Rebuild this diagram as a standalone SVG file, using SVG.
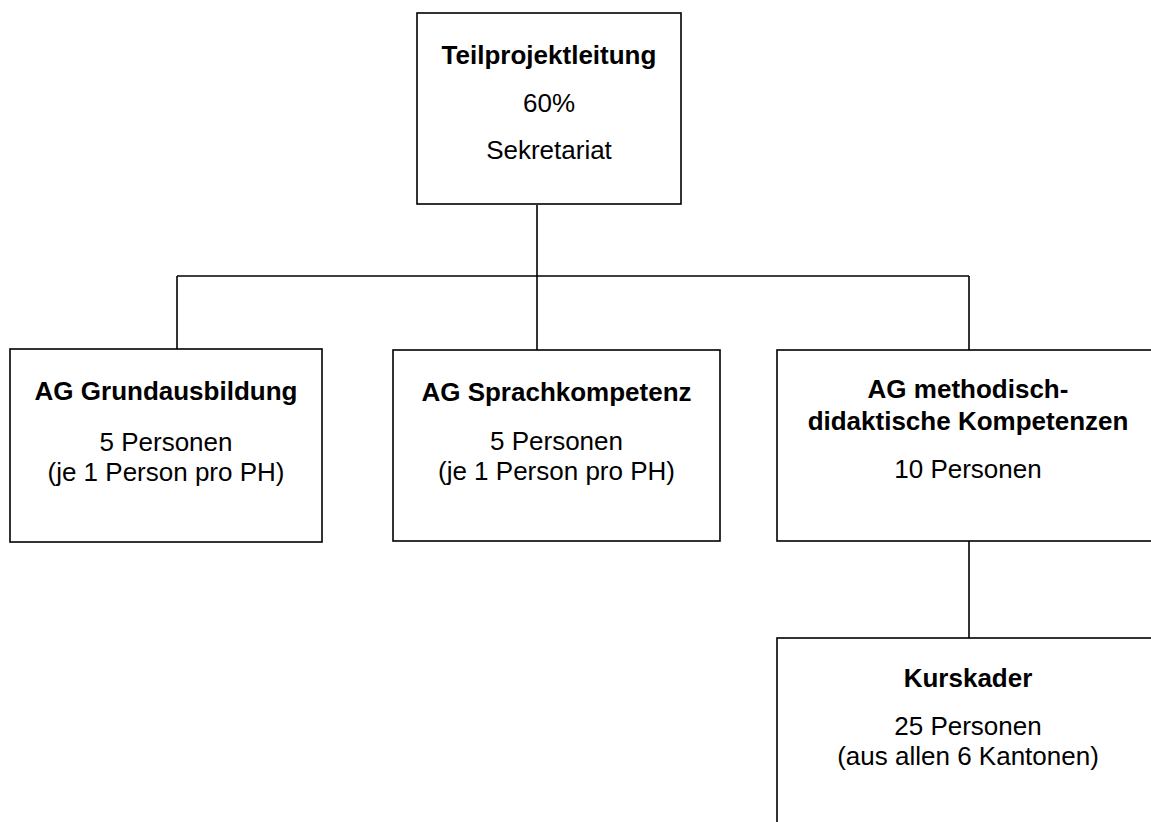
<svg xmlns="http://www.w3.org/2000/svg" width="1151" height="822" viewBox="0 0 1151 822">
<style>
.box{fill:#fff;stroke:#000;stroke-width:1.6}
.t{font-family:"Liberation Sans",Arial,sans-serif;font-size:26px;fill:#000;text-anchor:middle}
.b{font-weight:bold}
.c{stroke:#000;stroke-width:1.6;fill:none}
</style>
<rect width="1151" height="822" fill="#fff"/>
<g id="connectors">
<line class="c" x1="537" y1="205" x2="537" y2="276"/>
<line class="c" x1="177" y1="276" x2="969" y2="276"/>
<line class="c" x1="177" y1="276" x2="177" y2="349"/>
<line class="c" x1="537" y1="276" x2="537" y2="350"/>
<line class="c" x1="969" y1="276" x2="969" y2="350"/>
<line class="c" x1="969" y1="541" x2="969" y2="638"/>
</g>
<g id="teilprojektleitung">
<rect class="box" x="417" y="13" width="264" height="191"/>
<text class="t b" x="549" y="64">Teilprojektleitung</text>
<text class="t" x="549" y="112">60%</text>
<text class="t" x="549" y="159">Sekretariat</text>
</g>
<g id="ag-grundausbildung">
<rect class="box" x="10" y="349" width="312" height="193"/>
<text class="t b" x="166" y="400">AG Grundausbildung</text>
<text class="t" x="166" y="451">5 Personen</text>
<text class="t" x="166" y="481">(je 1 Person pro PH)</text>
</g>
<g id="ag-sprachkompetenz">
<rect class="box" x="393" y="350" width="327" height="191"/>
<text class="t b" x="556.5" y="401">AG Sprachkompetenz</text>
<text class="t" x="556.5" y="450">5 Personen</text>
<text class="t" x="556.5" y="480">(je 1 Person pro PH)</text>
</g>
<g id="ag-methodisch">
<rect class="box" x="777" y="350" width="382" height="191"/>
<text class="t b" x="968" y="398">AG methodisch-</text>
<text class="t b" x="968" y="430">didaktische Kompetenzen</text>
<text class="t" x="968" y="478">10 Personen</text>
</g>
<g id="kurskader">
<rect class="box" x="777" y="638" width="382" height="200"/>
<text class="t b" x="968" y="687">Kurskader</text>
<text class="t" x="968" y="735">25 Personen</text>
<text class="t" x="968" y="765">(aus allen 6 Kantonen)</text>
</g>
</svg>
